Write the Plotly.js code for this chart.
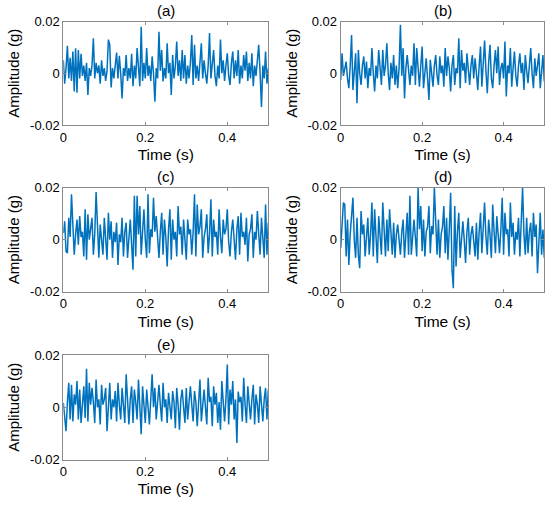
<!DOCTYPE html>
<html><head><meta charset="utf-8">
<script src="https://cdn.plot.ly/plotly-3.0.1.min.js"></script>
<style>html,body{margin:0;padding:0;background:#fff}#chart{width:550px;height:506px}</style>
</head><body><div id="chart"></div>
<script>
// Sampling: 151 samples from 0 to 0.5 s
const sampleRate = 300; // samples per second (read-off resolution)
// Amplitudes in milli-g (1e-3 g)
const seriesA = [5,-4,2,10.6,-2,6,-3,8.4,-7,9.7,-7.5,9,-2,7.5,-1,3,-3,4,-8.4,2,-1,3,13.5,-2,4,0,3,-4,5,-1,2,-3,1,13,11,-5.5,2,-2,3,8,-2,6.7,0,-9.7,2,-1,7,-3,2,-2,7.5,-5,3,-2,9.7,1,-5,18,-3,4,-2,9.7,-1,3,-3,6.5,0,-11,2,-2,16,1,9,-3.2,2,-2,11.6,0,4,-8.4,7,-2,3,12.3,-1,5,-3,9,-2,7,-4,3,-2,4,14.8,-4.5,11,-2,3,-3,4,11.6,-2,5,0,-4,3,15.5,-2,4,9,-1,-5,3,-2,13,0,5,-3,3,7.7,-1,-4.5,4,8.4,-2,5,-1,9,-4,3,-2,7,1,8.4,-3,4,-2,7.7,-5,3,-1,4,11,0,-13,3,-2,8.4,-4,2];
const seriesB = [-2.6,7.7,-1,2,4.5,-2,-5.8,3,14.8,-6.5,2,7.7,-11.6,9,0,-4.5,3,6.5,-2,4.5,-5.8,2,-1,9.7,0,-7,3,-2,9,1,-4.5,9,-1,3,11.6,0,-6.5,4,-2,7,-4.5,3,-5.8,2,18.7,-1,9.7,-9.7,2,7,0,-4.5,3,-1,11.6,-4.5,9.7,1,-5.2,3,10.3,-5.8,2,5.8,-2,-10.3,5.2,0,-5.2,3,7,-1,-4.5,6.5,0,3,-5.2,9.7,-1,6.5,2,-7,3,7,-4.5,2,0,13.5,-5.8,9,1,4,-3.8,7.7,0,-4.5,3,7,-2,5.8,0,-6.5,3,10.3,-5.2,2,12.6,1,-7.7,4,11,-2,-5.8,3,9,0,10.3,-4.5,2,4,-2,12.3,-9,3,0,9.7,-5.2,2,8.4,-1,-5.2,3,7.7,0,4,-6.5,7,1,-3.8,3,9.7,0,-5.8,5.8,-1,3,7.7,-5.8,2,7,-3.2];
const seriesC = [2.5,7,-4.5,-5.2,8.4,1,17.4,6.5,-5.8,2,7.7,-2,9,1,3,-6.5,11.6,-7.7,9.7,0,4,8.4,-5.8,2,18.3,1,-7,5.8,-1,-5.8,8.4,2,-7.7,10.3,0,7,-7,3,-1,6.5,-9.7,2,-1,8.4,-6.5,3,6.5,-7,1,7.7,-2,-11.6,16.8,-6.5,16.8,2,12.9,-5.8,3,11.6,0,-7,17.4,-5.2,4,1,16.1,3,9,-1,-7,3,10.3,-5.8,7.7,1,-10.3,4,11.6,-7.7,7.7,0,3,-6.5,12.9,2,5,-5.8,7.7,0,-7.7,7.7,2,4,-5.8,3,17.4,-6.5,13.5,2,5,11.6,-7,1,4,9.7,-5.2,2,15.5,-6.5,7.7,1,3,-5.8,11.6,1,-5.2,7.7,2,4,11.6,-1,-6.5,3,7.7,0,-7.7,4,9,-5.8,10.3,1,3,-2,8.4,-8.4,2,4,9.7,-7,3,0,11,2,-5.8,8.4,1,-7,13.5,-5.8,6.5];
const seriesD = [-3.2,3.9,14.2,13.5,-6.5,7.7,-9.7,2,7.7,16.1,0,-7,8.4,-5.8,-11,11,2,5.8,-6.5,3,8.4,-5.8,2,14.2,-6.5,11.6,1,-9,9,2,-5.8,14.2,3,-6.5,7.7,-4.5,11.6,2,-5.8,6.5,-7,2,5.8,0,-5.8,3,7.7,-7,2,10.3,-5.8,16.8,-5.8,3,7.7,1,-6.5,20,4,12.9,-4.5,7.7,-6.5,3,5,12.9,-5.2,5.2,2,20,3,-5.8,7.7,-7,2,5,12.9,-5.2,8.4,-7.7,4,18,-11.6,-18.7,12.9,-10.3,3,10.3,-7,2,7,0,-9,3,8.4,-5.8,2,5.2,0,-6.5,6.5,-7.7,3,10.3,-5.2,4,14.2,1,-5.8,7.7,2,-7,13.5,3,-5.2,9,1,-5.2,4,16.1,-5.8,10.3,2,4,-6.5,14.2,1,6.5,-5.8,3,0,8.4,-6.5,4,20,2,-5.8,8.4,-5.2,3,6.5,-6.5,10.3,1,5.8,-12.9,2,10.3,-5.8,3.9,-7];
const seriesE = [1.7,-3.5,-9.2,2,9.4,-4.7,8.6,-5.4,4.9,1,10,-4.7,6.8,-6,2,8,-4.1,14.7,-5.4,9.4,1,7.4,2,-6,10.6,0,3,-6.6,8.6,1,3,7.4,-9.2,2,9.4,-4.7,3,0,6.2,-5.4,9.4,1,-4.7,7.4,2,-6,12.6,1,-6.6,3,8,-6,6.8,2,-4.7,10.6,1,-10.3,8,2,-6,6.8,1,-6.6,3,12.6,0,7.4,-4.7,2,8.6,1,-5.4,9.4,0,3,-6,5.5,1,-4.7,6.2,2,-8,7.4,1,-8.6,3,6.8,0,-6,7.4,-4.7,2,8,1,-5.4,6.2,2,-7.3,3,10.6,-5.4,2,6.8,0,-6.6,11.3,2,4,-7.3,8,1,5.5,-6,2,-8.6,10,1,-5.4,3,16.4,-6.6,6.8,1,10,-4.7,3,-13.7,6,2,4,-5.4,11.3,1,-6,8,2,-4.7,3,8.6,-6.6,4.9,1,-6,8,2,-5.4,3,7.4,-4.7,6.8];

const panelTitles = ["(a)","(b)","(c)","(d)","(e)"];
const xTickVals = [0, 0.2, 0.4];
const xTickText = ["0", "0.2", "0.4"];
const yTickVals = [-0.02, 0, 0.02];
const yTickText = ["-0.02", "0", "0.02"];
const xTitle = "Time (s)";
const yTitle = "Amplitude (g)";

const allSeries = [seriesA, seriesB, seriesC, seriesD, seriesE];
const W = 550, H = 506;
// panel boxes in pixels [left, right, top, bottom]
const boxes = [
  [63.3, 268.3, 21.5, 125],
  [340.7, 544.3, 21.5, 125],
  [63.3, 268.3, 187.5, 291.7],
  [340.7, 544.3, 187.5, 291.7],
  [63.3, 268.3, 355, 459.5]
];
const font = "Arial, 'Liberation Sans', Helvetica, sans-serif";
const data = [];
const layout = {
  width: W, height: H,
  margin: {l:0, r:0, t:0, b:0},
  paper_bgcolor: "#fff", plot_bgcolor: "#fff",
  showlegend: false,
  font: {family: font, color: "#000", size: 13},
  annotations: []
};
allSeries.forEach((s, k) => {
  const n = k === 0 ? "" : String(k + 1);
  data.push({
    type: "scatter", mode: "lines",
    x: s.map((v, i) => i / sampleRate),
    y: s.map(v => v / 1000),
    xaxis: "x" + n, yaxis: "y" + n,
    line: {color: "#0072BD", width: 1.5},
    hoverinfo: "skip"
  });
  const b = boxes[k];
  const common = {
    showline: true, mirror: "ticks", linecolor: "#8a8a8a", linewidth: 1,
    ticks: "inside", ticklen: 3, tickcolor: "#8a8a8a", tickwidth: 1,
    showgrid: false, zeroline: false, fixedrange: true,
    tickfont: {family: font, size: 13, color: "#000"}
  };
  layout["xaxis" + n] = Object.assign({}, common, {
    domain: [b[0] / W, b[1] / W], anchor: "y" + n,
    range: [0, 0.5], tickmode: "array", tickvals: xTickVals, ticktext: xTickText,
    title: {text: xTitle, font: {family: font, size: 15.5, color: "#000"}, standoff: 5}
  });
  layout["yaxis" + n] = Object.assign({}, common, {
    domain: [1 - b[3] / H, 1 - b[2] / H], anchor: "x" + n,
    range: [-0.02, 0.02], tickmode: "array", tickvals: yTickVals, ticktext: yTickText,
    title: {text: yTitle, font: {family: font, size: 15, color: "#000"}, standoff: 6}
  });
  layout.annotations.push({
    text: panelTitles[k], showarrow: false,
    xref: "paper", yref: "paper",
    x: (b[0] + b[1]) / 2 / W, y: 1 - b[2] / H,
    xanchor: "center", yanchor: "bottom", yshift: 0,
    font: {family: font, size: 15, color: "#000"}
  });
});
Plotly.newPlot("chart", data, layout, {staticPlot: true, displayModeBar: false});
</script>
</body></html>
